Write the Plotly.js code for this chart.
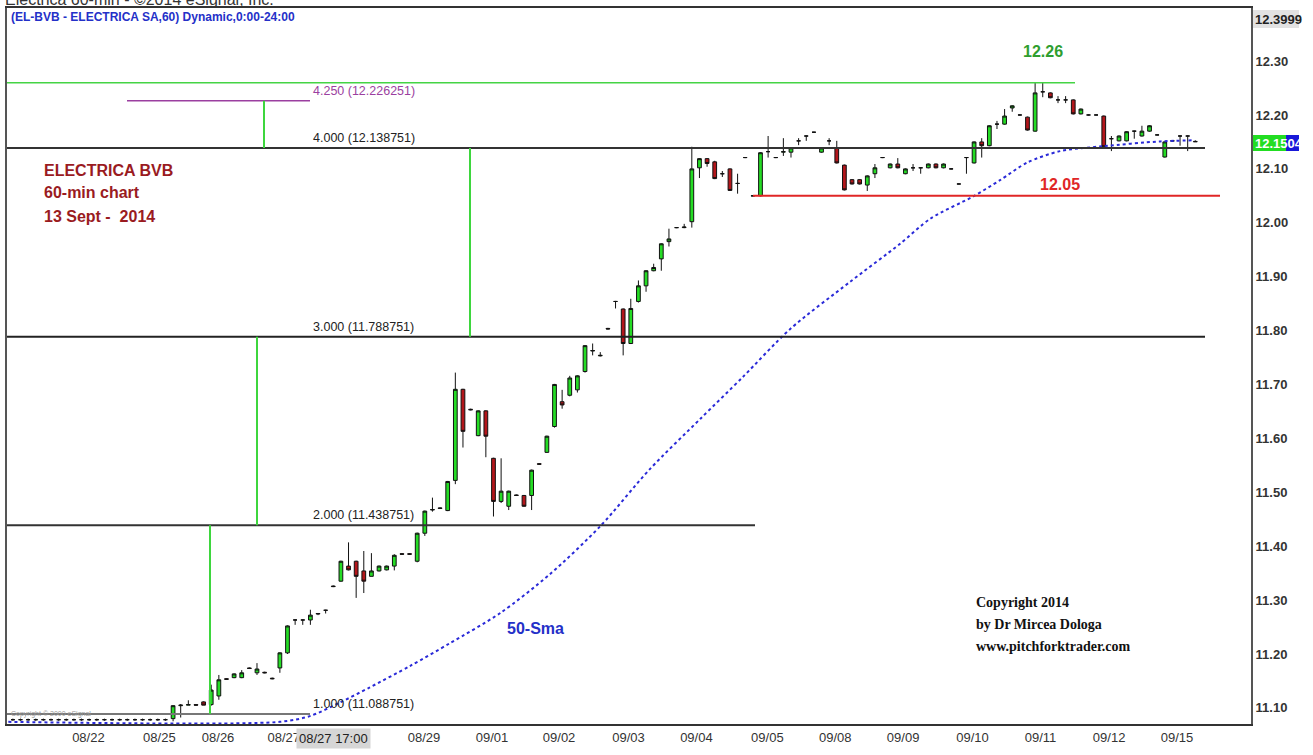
<!DOCTYPE html>
<html><head><meta charset="utf-8">
<script src="https://cdn.plot.ly/plotly-3.0.1.min.js"></script>
<style>html,body{margin:0;padding:0;background:#fff}#chart{width:1313px;height:755px}</style>
</head><body><div id="chart"></div>
<script>
// ---- data (hourly bars, index 0 = first bar of 08/25) ----
const firstBar = -21;
const openP = [
11.078,11.078,11.078,11.078,11.078,11.078,11.078,11.078,11.078,11.078,11.078,11.078,11.078,11.078,11.078,11.078,11.078,11.078,11.078,11.078,11.078,
11.080,11.104,11.105,11.106,11.111,11.106,11.122,11.154,11.156,11.156,11.174,11.165,11.166,11.155,11.174,11.202,11.263,11.263,11.263,11.274,
11.281,11.326,11.335,11.363,11.372,11.354,11.344,11.354,11.356,11.363,11.386,11.386,11.372,11.424,11.467,11.471,11.466,11.522,11.691,11.654,
11.605,11.651,11.563,11.483,11.474,11.495,11.494,11.494,11.553,11.574,11.622,11.668,11.680,11.690,11.724,11.762,11.753,11.804,11.854,11.840,
11.776,11.854,11.883,11.911,11.933,11.965,11.991,11.991,12.002,12.102,12.119,12.113,12.091,12.100,12.073,12.121,12.050,12.050,12.132,12.121,
12.131,12.131,12.152,12.161,12.168,12.131,12.152,12.139,12.107,12.080,12.080,12.070,12.091,12.121,12.102,12.109,12.091,12.102,12.102,12.102,
12.109,12.102,12.100,12.072,12.121,12.111,12.150,12.143,12.183,12.183,12.213,12.200,12.196,12.170,12.243,12.241,12.228,12.228,12.228,12.202,
12.200,12.200,12.198,12.156,12.152,12.152,12.170,12.161,12.170,12.163,12.122,12.152,12.161,12.161,12.151];
const highP = [
11.080,11.080,11.080,11.080,11.080,11.080,11.080,11.080,11.080,11.080,11.080,11.080,11.080,11.080,11.080,11.080,11.080,11.080,11.080,11.080,11.080,
11.105,11.107,11.114,11.107,11.112,11.143,11.161,11.155,11.164,11.170,11.175,11.183,11.167,11.156,11.203,11.253,11.264,11.264,11.282,11.276,
11.282,11.327,11.373,11.407,11.373,11.391,11.387,11.364,11.364,11.385,11.387,11.387,11.425,11.466,11.490,11.472,11.521,11.722,11.692,11.655,
11.652,11.652,11.564,11.563,11.503,11.496,11.495,11.542,11.554,11.605,11.701,11.690,11.716,11.717,11.773,11.776,11.760,11.805,11.855,11.841,
11.859,11.893,11.912,11.924,11.962,11.989,11.992,11.998,12.141,12.120,12.120,12.115,12.096,12.101,12.091,12.122,12.051,12.131,12.161,12.122,
12.157,12.140,12.157,12.162,12.169,12.140,12.157,12.152,12.108,12.081,12.081,12.088,12.109,12.122,12.110,12.120,12.101,12.109,12.103,12.110,
12.110,12.110,12.101,12.073,12.122,12.151,12.157,12.181,12.189,12.211,12.218,12.201,12.197,12.261,12.261,12.242,12.235,12.235,12.229,12.212,
12.201,12.201,12.199,12.161,12.162,12.170,12.171,12.180,12.181,12.164,12.151,12.153,12.162,12.162,12.153];
const lowP = [
11.076,11.076,11.076,11.076,11.076,11.076,11.076,11.076,11.076,11.076,11.076,11.076,11.076,11.076,11.076,11.076,11.076,11.076,11.076,11.076,11.076,
11.075,11.082,11.105,11.104,11.105,11.104,11.115,11.152,11.155,11.155,11.172,11.161,11.164,11.153,11.165,11.200,11.254,11.254,11.254,11.272,
11.275,11.324,11.334,11.355,11.304,11.313,11.344,11.353,11.355,11.355,11.384,11.384,11.370,11.419,11.464,11.469,11.465,11.515,11.583,11.652,
11.604,11.565,11.455,11.480,11.467,11.493,11.473,11.467,11.551,11.573,11.620,11.655,11.678,11.685,11.722,11.754,11.752,11.802,11.841,11.754,
11.775,11.852,11.872,11.910,11.911,11.956,11.990,11.990,11.991,12.083,12.104,12.081,12.085,12.059,12.054,12.120,12.049,12.049,12.121,12.120,
12.124,12.121,12.144,12.152,12.167,12.130,12.144,12.110,12.060,12.071,12.071,12.059,12.083,12.120,12.101,12.101,12.090,12.096,12.091,12.101,
12.101,12.101,12.099,12.071,12.091,12.110,12.121,12.142,12.174,12.182,12.206,12.199,12.171,12.169,12.233,12.231,12.222,12.222,12.201,12.201,
12.199,12.199,12.140,12.133,12.151,12.151,12.156,12.160,12.169,12.162,12.121,12.151,12.143,12.133,12.150];
const closeP = [
11.078,11.078,11.078,11.078,11.078,11.078,11.078,11.078,11.078,11.078,11.078,11.078,11.078,11.078,11.078,11.078,11.078,11.078,11.078,11.078,11.078,
11.104,11.105,11.106,11.105,11.105,11.133,11.152,11.153,11.163,11.165,11.173,11.172,11.165,11.154,11.202,11.252,11.263,11.263,11.272,11.275,
11.281,11.325,11.372,11.356,11.344,11.335,11.354,11.363,11.363,11.383,11.385,11.385,11.424,11.465,11.468,11.470,11.520,11.691,11.613,11.653,
11.651,11.604,11.483,11.502,11.502,11.494,11.474,11.541,11.552,11.604,11.700,11.662,11.712,11.716,11.772,11.763,11.754,11.803,11.854,11.776,
11.841,11.883,11.911,11.917,11.961,11.970,11.991,11.992,12.100,12.119,12.110,12.082,12.091,12.060,12.073,12.121,12.050,12.130,12.132,12.121,
12.132,12.139,12.152,12.161,12.168,12.139,12.152,12.111,12.061,12.072,12.072,12.087,12.102,12.121,12.109,12.102,12.100,12.102,12.102,12.109,
12.102,12.109,12.100,12.072,12.121,12.150,12.143,12.180,12.183,12.198,12.217,12.200,12.172,12.241,12.243,12.232,12.228,12.228,12.202,12.211,
12.200,12.200,12.141,12.156,12.161,12.169,12.170,12.170,12.180,12.163,12.150,12.152,12.161,12.161,12.1504];

// 50-period simple moving average
const smaX = [-21.6, 14.0, 18.0, 21.9, 25.8, 31.1, 36.3, 42.9, 49.4, 56.0, 62.5, 69.1, 74.7, 80.9, 88.8, 95.3, 99.3, 104.9, 108.4, 112.0, 116.3, 121.9, 129.4, 133.7];
const smaY = [11.074, 11.074, 11.085, 11.110, 11.138, 11.178, 11.220, 11.276, 11.348, 11.437, 11.543, 11.636, 11.714, 11.803, 11.891, 11.961, 12.008, 12.049, 12.079, 12.112, 12.133, 12.142, 12.151, 12.153];

// x-axis day labels and their bar positions (08/28 sits under the crosshair date box)
const dayLabels = ['08/22','08/25','08/26','08/27','08/29','09/01','09/02','09/03','09/04','09/05','09/08','09/09','09/10','09/11','09/12','09/15'];
const dayPos = [-11.1, -1.8, 5.9, 14.5, 32.9, 41.8, 50.6, 59.7, 68.6, 77.9, 86.8, 95.7, 104.8, 113.7, 122.7, 131.6];

// y-axis ticks
const priceTicks = [11.1, 11.2, 11.3, 11.4, 11.5, 11.6, 11.7, 11.8, 11.9, 12.0, 12.1, 12.2, 12.3];

// pitchfork / fibonacci levels
const fibRatios = ['1.000', '2.000', '3.000', '4.000', '4.250'];
const fibLevels = [11.088751, 11.438751, 11.788751, 12.138751, 12.226251];
const highMark = 12.26;
const supportMark = 12.05;
const lastPrice = 12.1504;
const topPrice = 12.3999;

// ---- drawing ----
const xs = openP.map((_, i) => i + firstBar);
const NARROW = 'Liberation Sans Narrow, Arial Narrow, Liberation Sans, Arial, sans-serif';
const SANS = 'Liberation Sans, Arial, sans-serif';
const SERIF = 'Liberation Serif, Times New Roman, serif';

const X0 = -21.77, X1 = 141.3, Y0 = 11.070, Y1 = 12.3985;
// plot area in pixels: left 7, right 1251, top 8, bottom 724
const px = p => (p - 7) / 1244;      // pixel -> paper x
const py = p => (724 - p) / 716;     // pixel -> paper y
const kx = p => X0 + (p - 7) / 1244 * (X1 - X0); // pixel -> bar coordinate

const traces = [
  {
    type: 'candlestick', x: xs, open: openP, high: highP, low: lowP, close: closeP,
    increasing: {line: {color: '#111', width: 1}, fillcolor: '#25dc25'},
    decreasing: {line: {color: '#111', width: 1}, fillcolor: '#b3161b'},
    whiskerwidth: 0, hoverinfo: 'skip', showlegend: false
  },
  {
    type: 'scatter', mode: 'lines', x: smaX, y: smaY,
    line: {color: '#2a2ad8', width: 2, dash: 'dot', shape: 'spline', smoothing: 0.8},
    hoverinfo: 'skip', showlegend: false
  }
];

const shapes = [];
const hline = (xa, xb, y, color, w) => shapes.push({type: 'line', xref: 'x', yref: 'y', x0: xa, x1: xb, y0: y, y1: y, line: {color: color, width: w}});
const vline = (x, ya, yb, color, w) => shapes.push({type: 'line', xref: 'x', yref: 'y', x0: x, x1: x, y0: ya, y1: yb, line: {color: color, width: w}});

hline(X0, kx(1075), highMark, '#44d444', 1.5);
hline(kx(127), kx(310), fibLevels[4], '#9b3fa0', 1.5);
hline(X0, kx(1205), fibLevels[3], '#333', 2);
hline(X0, kx(1205), fibLevels[2], '#222', 2);
hline(X0, kx(755), fibLevels[1], '#333', 2);
hline(X0, kx(310), fibLevels[0], '#777', 2);
hline(kx(753), kx(1220), supportMark, '#e02626', 2);
vline(kx(210), fibLevels[0], fibLevels[1], '#3ed63e', 2);
vline(kx(257), fibLevels[1], fibLevels[2], '#3ed63e', 2);
vline(kx(470), fibLevels[2], fibLevels[3], '#3ed63e', 2);
vline(kx(264), fibLevels[3], fibLevels[4], '#3ed63e', 2);
// last-price badge background on the right axis
shapes.push({type: 'rect', xref: 'paper', yref: 'paper', x0: px(1253), x1: px(1286), y0: py(151), y1: py(135), fillcolor: '#22dd22', line: {width: 0}});
shapes.push({type: 'rect', xref: 'paper', yref: 'paper', x0: px(1286), x1: px(1299), y0: py(151), y1: py(135), fillcolor: '#1818d8', line: {width: 0}});
shapes.push({type: 'rect', xref: 'paper', yref: 'paper', x0: px(1253), x1: px(1299), y0: py(28), y1: py(10), fillcolor: '#e2e2e2', line: {width: 0}});

const annotations = [];
// fib labels
fibLevels.forEach((lv, i) => {
  annotations.push({xref: 'x', yref: 'y', x: kx(311), y: lv, xanchor: 'left', yanchor: 'bottom', yshift: 1,
    text: fibRatios[i] + ' (' + lv.toFixed(6) + ')', showarrow: false,
    font: {family: NARROW, size: 12.5, color: i === 4 ? '#9b3fa0' : '#222'}});
});
const txt = (x, y, text, font, extra) => annotations.push(Object.assign({xref: 'paper', yref: 'paper', x: px(x), y: py(y), text: text, showarrow: false, font: font, xanchor: 'left', yanchor: 'middle'}, extra || {}));

txt(3, -1, 'Electrica 60-min - ©2014 eSignal, Inc.', {family: SANS, size: 16, color: '#333'});
txt(9, 17, '(EL-BVB - ELECTRICA SA,60) Dynamic,0:00-24:00', {family: NARROW, size: 12, color: '#2430c8', weight: 'bold'});
txt(42, 170, 'ELECTRICA BVB', {family: SANS, size: 16, color: '#9a1b1f', weight: 'bold'});
txt(42, 193, '60-min chart', {family: SANS, size: 16, color: '#9a1b1f', weight: 'bold'});
txt(42, 216, '13 Sept -  2014', {family: SANS, size: 16, color: '#9a1b1f', weight: 'bold'});
annotations.push({xref: 'x', yref: 'y', x: kx(1043), y: highMark, yshift: 31, text: highMark.toFixed(2), showarrow: false, font: {family: SANS, size: 16, color: '#2f9e2f', weight: 'bold'}});
annotations.push({xref: 'x', yref: 'y', x: kx(1060), y: supportMark, yshift: 11, text: supportMark.toFixed(2), showarrow: false, font: {family: SANS, size: 16, color: '#e02626', weight: 'bold'}});
txt(505, 628, '50-Sma', {family: SANS, size: 16, color: '#2430c8', weight: 'bold'});
txt(974, 602, 'Copyright 2014', {family: SERIF, size: 14, color: '#111', weight: 'bold'});
txt(974, 624, 'by Dr Mircea Dologa', {family: SERIF, size: 14, color: '#111', weight: 'bold'});
txt(974, 646, 'www.pitchforktrader.com', {family: SERIF, size: 14, color: '#111', weight: 'bold'});
txt(9, 714, 'Copyright © 2000 eSignal', {family: SANS, size: 7, color: '#999'});
// crosshair date box
txt(333, 738, '08/27 17:00', {family: NARROW, size: 13, color: '#222'}, {xanchor: 'center', bgcolor: '#d6d6d6', borderpad: 2});
// price labels on right axis
txt(1253, 19, topPrice.toFixed(4), {family: NARROW, size: 13, color: '#222', weight: 'bold'});
txt(1253, 143, lastPrice.toFixed(4), {family: NARROW, size: 13, color: '#fff', weight: 'bold'});

const layout = {
  width: 1313, height: 755,
  margin: {l: 7, r: 62, t: 8, b: 31, pad: 0},
  paper_bgcolor: '#fff', plot_bgcolor: '#fff',
  showlegend: false, boxgap: 0.3,
  xaxis: {
    range: [X0, X1], tickvals: dayPos, ticktext: dayLabels, ticks: '',
    showgrid: false, zeroline: false, showline: true, mirror: true, linecolor: '#333', linewidth: 2,
    tickfont: {family: NARROW, size: 13, color: '#333'}, rangeslider: {visible: false}, fixedrange: true
  },
  yaxis: {
    side: 'right', range: [Y0, Y1], tickvals: priceTicks, ticktext: priceTicks.map(v => v.toFixed(2)), ticks: '',
    showgrid: false, zeroline: false, showline: true, mirror: true, linecolor: '#555', linewidth: 2,
    tickfont: {family: NARROW, size: 13, color: '#333', weight: 'bold'}, fixedrange: true
  },
  shapes: shapes, annotations: annotations
};
Plotly.newPlot('chart', traces, layout, {displayModeBar: false, staticPlot: true});
</script></body></html>
